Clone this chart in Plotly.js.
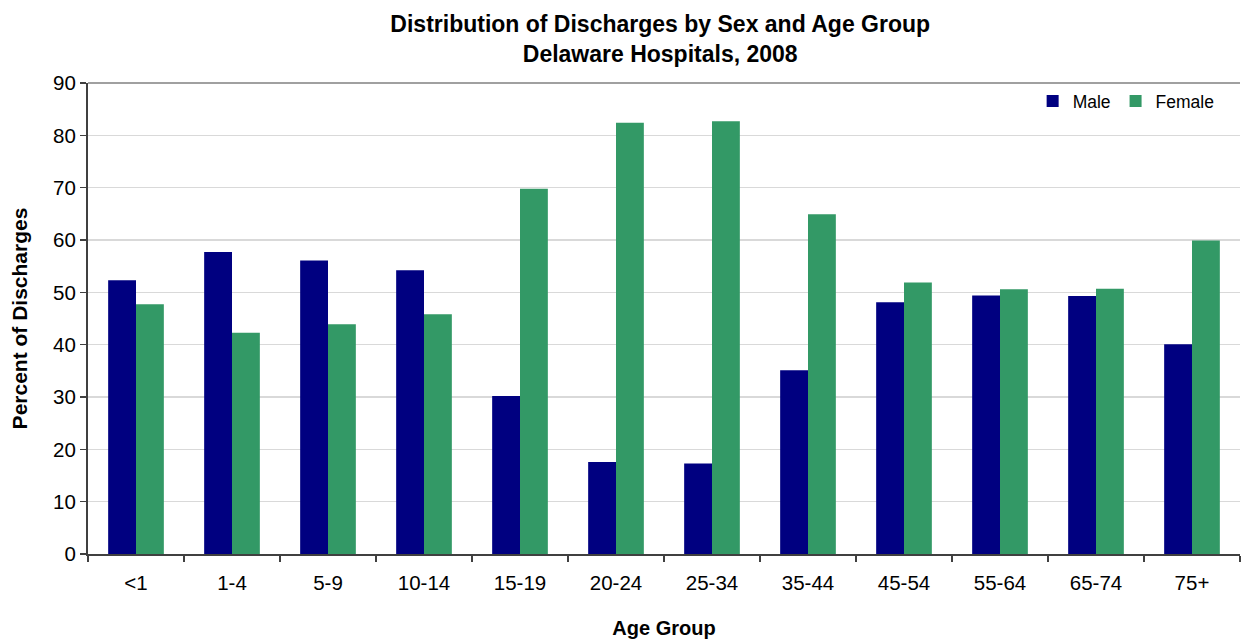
<!DOCTYPE html>
<html>
<head>
<meta charset="utf-8">
<script src="https://cdn.plot.ly/plotly-3.0.1.min.js"></script>
<style>html,body{margin:0;padding:0;background:#fff;}#chart{width:1241px;height:640px;}</style>
</head>
<body>
<div id="chart"></div>
<script>
const ageGroups = ["<1","1-4","5-9","10-14","15-19","20-24","25-34","35-44","45-54","55-64","65-74","75+"];
const male   = [52.3, 57.7, 56.1, 54.2, 30.2, 17.6, 17.3, 35.1, 48.1, 49.4, 49.3, 40.1];
const female = [47.7, 42.3, 43.9, 45.8, 69.8, 82.4, 82.7, 64.9, 51.9, 50.6, 50.7, 59.9];
const yTicks = [0,10,20,30,40,50,60,70,80,90];

const traces = [
  {type:'bar', name:'Male', x:ageGroups, y:male, marker:{color:'#000080'}},
  {type:'bar', name:'Female', x:ageGroups, y:female, marker:{color:'#339966'}}
];

const font = 'Arial, "Liberation Sans", sans-serif';
const layout = {
  width:1241, height:640,
  margin:{l:88, r:1, t:83, b:86},
  paper_bgcolor:'#fff', plot_bgcolor:'#fff',
  font:{family:font, color:'#000', size:20},
  title:{text:'<b>Distribution of Discharges by Sex and Age Group<br>Delaware Hospitals, 2008</b>',
         font:{family:font, size:23, color:'#000'}, x:0.532, xanchor:'center', xref:'container',
         y:0.95, yanchor:'middle', yref:'container'},
  barmode:'group', bargap:0.42, bargroupgap:0,
  xaxis:{type:'category', tickson:'boundaries', ticks:'outside', ticklen:6, tickcolor:'#404040', tickwidth:1.5,
         showline:true, linecolor:'#404040', linewidth:2, showgrid:false,
         tickfont:{family:font, size:20.5}, ticklabelstandoff:9,
         title:{text:'<b>Age Group</b>', font:{family:font, size:20}, standoff:28}},
  yaxis:{range:[0,90], tickvals:yTicks, ticktext:yTicks.map(String), ticks:'outside', ticklen:6, tickcolor:'#404040', tickwidth:1.5,
         showline:true, linecolor:'#404040', linewidth:2, gridcolor:'#d9d9d9', gridwidth:1.3, zeroline:false,
         tickfont:{family:font, size:20.5},
         title:{text:'<b>Percent of Discharges</b>', font:{family:font, size:21}, standoff:20}},
  shapes:[{type:'line', xref:'paper', yref:'paper', x0:0, x1:1, y0:1, y1:1, line:{color:'#808080', width:1.5}}],
  legend:{orientation:'h', x:0.82, y:1.0, xanchor:'left', yanchor:'top', font:{family:font, size:17.5},
          itemwidth:30, bgcolor:'rgba(0,0,0,0)', traceorder:'normal'},
  showlegend:true
};
Plotly.newPlot('chart', traces, layout, {displayModeBar:false, staticPlot:true});
</script>
</body>
</html>
